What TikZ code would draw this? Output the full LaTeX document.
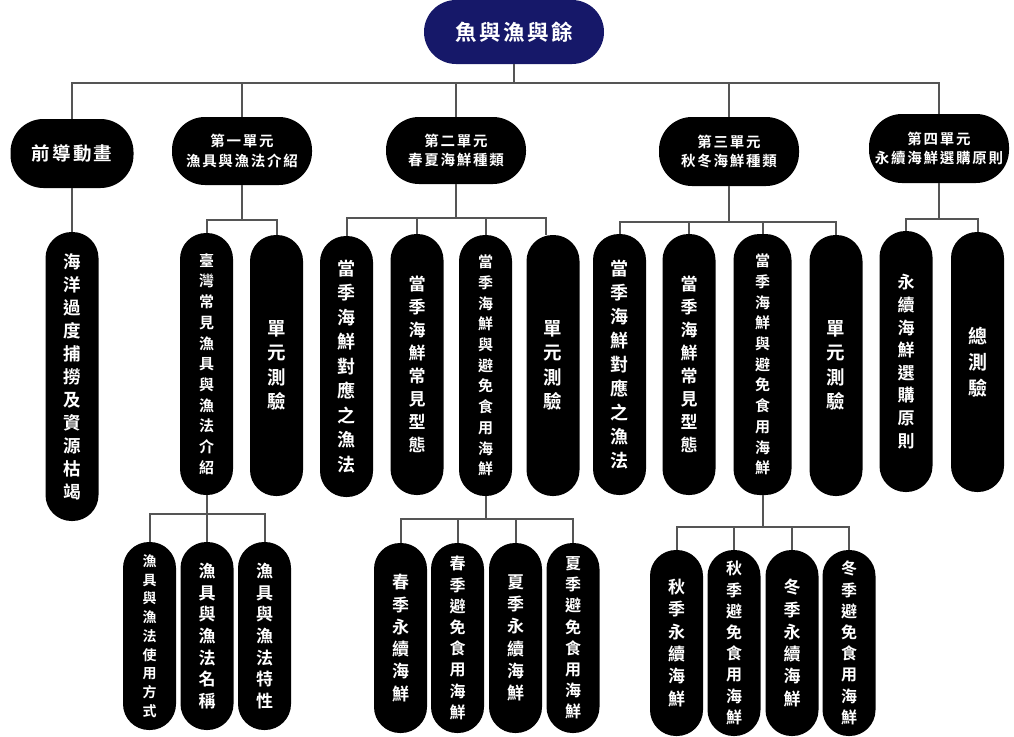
\documentclass[tikz,border=0pt]{standalone}
\usepackage{fontspec}
\newfontfamily\cjk{Noto Sans CJK TC}[BoldFont={Noto Sans CJK TC Bold}]
\newfontfamily\cjkh{Noto Sans CJK TC}[BoldFont={Noto Sans CJK TC Bold},LetterSpace=12]
\definecolor{navy}{RGB}{22,24,105}
\definecolor{linegray}{RGB}{85,85,85}
\newcommand\vf[2]{\cjk\bfseries\fontsize{#1}{#2}\selectfont}
\newcommand\hf[2]{\cjkh\bfseries\fontsize{#1}{#2}\selectfont}
\begin{document}
\begin{tikzpicture}[x=1pt,y=-1pt,
  conn/.style={draw=linegray, line width=2pt},
  vp/.style={fill=black, rounded corners=26pt, minimum width=53pt, inner sep=0pt, text=white, align=center},
  hp/.style={fill=black, rounded corners=33pt, minimum width=140pt, minimum height=68pt, inner sep=0pt, text=white, align=center, font=\hf{14.5}{19.5}},
]
\useasboundingbox (0,0) rectangle (1014,736);
% root
\node[fill=navy, rounded corners=32pt, minimum width=180pt, minimum height=64pt, inner sep=0pt, text=white, font=\hf{21.5}{24}] (root) at (514,32) {魚與漁與餘};
% level 1
\node[hp, minimum width=123pt, minimum height=69pt, font=\hf{18.5}{22}] (a1) at (72,153.5) {前導動畫};
\node[hp] (a2) at (242,151) {第一單元\\漁具與漁法介紹};
\node[hp, minimum height=67pt] (a3) at (456,150.5) {第二單元\\春夏海鮮種類};
\node[hp, minimum height=69pt] (a4) at (729,151.5) {第三單元\\秋冬海鮮種類};
\node[hp, minimum height=69pt] (a5) at (939,148.5) {第四單元\\永續海鮮選購原則};
% level 2
\node[vp, minimum height=289pt, font=\vf{17.5}{23}] (b1) at (72,376.5) {海\\洋\\過\\度\\捕\\撈\\及\\資\\源\\枯\\竭};
\node[vp, minimum height=262pt, font=\vf{15}{20.7}] (c1) at (206.5,364) {臺\\灣\\常\\見\\漁\\具\\與\\漁\\法\\介\\紹};
\node[vp, minimum height=261pt, font=\vf{18.5}{24.5}] (c2) at (276.5,365.5) {單\\元\\測\\驗};
\node[vp, minimum height=261pt, font=\vf{18}{24.5}] (d1) at (346.5,366.5) {當\\季\\海\\鮮\\對\\應\\之\\漁\\法};
\node[vp, minimum height=261pt, font=\vf{17}{23}] (d2) at (417,364.5) {當\\季\\海\\鮮\\常\\見\\型\\態};
\node[vp, minimum height=261pt, font=\vf{15}{20.7}] (d3) at (485.5,365.5) {當\\季\\海\\鮮\\與\\避\\免\\食\\用\\海\\鮮};
\node[vp, minimum height=261pt, font=\vf{18.5}{24.5}] (d4) at (553,365.5) {單\\元\\測\\驗};
\node[vp, minimum height=261pt, font=\vf{18}{24}] (e1) at (619.5,364.5) {當\\季\\海\\鮮\\對\\應\\之\\漁\\法};
\node[vp, minimum height=261pt, font=\vf{17}{23}] (e2) at (689,364.5) {當\\季\\海\\鮮\\常\\見\\型\\態};
\node[vp, minimum width=58pt, minimum height=261pt, font=\vf{15}{20.7}] (e3) at (762.5,364.5) {當\\季\\海\\鮮\\與\\避\\免\\食\\用\\海\\鮮};
\node[vp, minimum height=261pt, font=\vf{18.5}{24.5}] (e4) at (836,365.5) {單\\元\\測\\驗};
\node[vp, minimum height=261pt, font=\vf{17}{22.6}] (f1) at (906,361.5) {永\\續\\海\\鮮\\選\\購\\原\\則};
\node[vp, minimum height=260pt, font=\vf{19}{25.8}] (f2) at (977.5,362) {總\\測\\驗};
% level 3
\node[vp, minimum height=188pt, font=\vf{14}{18.75}] (g1) at (149.5,636) {漁\\具\\與\\漁\\法\\使\\用\\方\\式};
\node[vp, minimum height=188pt, font=\vf{17}{21.7}] (g2) at (207,636) {漁\\具\\與\\漁\\法\\名\\稱};
\node[vp, minimum height=188pt, font=\vf{17}{21.7}] (g3) at (264.5,636) {漁\\具\\與\\漁\\法\\特\\性};
\node[vp, minimum height=190pt, font=\vf{17}{22.3}] (h1) at (400.5,638) {春\\季\\永\\續\\海\\鮮};
\node[vp, minimum height=190pt, font=\vf{16}{21.2}] (h2) at (457.5,638) {春\\季\\避\\免\\食\\用\\海\\鮮};
\node[vp, minimum height=190pt, font=\vf{17}{22.3}] (h3) at (515.5,638) {夏\\季\\永\\續\\海\\鮮};
\node[vp, minimum height=190pt, font=\vf{16}{21.2}] (h4) at (573,638) {夏\\季\\避\\免\\食\\用\\海\\鮮};
\node[vp, minimum height=186pt, font=\vf{17}{22.3}] (i1) at (676.5,643) {秋\\季\\永\\續\\海\\鮮};
\node[vp, minimum height=186pt, font=\vf{16}{21.2}] (i2) at (734,643) {秋\\季\\避\\免\\食\\用\\海\\鮮};
\node[vp, minimum height=186pt, font=\vf{17}{22.3}] (i3) at (792,643) {冬\\季\\永\\續\\海\\鮮};
\node[vp, minimum height=186pt, font=\vf{16}{21.2}] (i4) at (849,643) {冬\\季\\避\\免\\食\\用\\海\\鮮};
% junctions
\coordinate (j0) at (root.south |- 0,83);
\coordinate (k2) at (a2.south |- 0,220);
\coordinate (k3) at (a3.south |- 0,218);
\coordinate (k4) at (a4.south |- 0,222);
\coordinate (k5) at (a5.south |- 0,219);
\coordinate (k6) at (c1.south |- 0,514);
\coordinate (k7) at (d3.south |- 0,519);
\coordinate (k8) at (e3.south |- 0,527);
% connectors
\draw[conn] (root) -- (j0);
\foreach \n in {a1,a2,a3,a4,a5} \draw[conn] (j0) -| (\n);
\draw[conn] (a1) -- (b1);
\draw[conn] (a2) -- (k2);
\foreach \n in {c1,c2} \draw[conn] (k2) -| (\n);
\draw[conn] (a3) -- (k3);
\foreach \n in {d1,d2,d3} \draw[conn] (k3) -| (\n);
\draw[conn] (k3) -| ([xshift=-7pt]d4.north);
\draw[conn] (a4) -- (k4);
\foreach \n in {e1,e2,e3,e4} \draw[conn] (k4) -| (\n);
\draw[conn] (a5) -- (k5);
\foreach \n in {f1,f2} \draw[conn] (k5) -| (\n);
\draw[conn] (c1) -- (k6);
\foreach \n in {g1,g2,g3} \draw[conn] (k6) -| (\n);
\draw[conn] (d3) -- (k7);
\foreach \n in {h1,h2,h3,h4} \draw[conn] (k7) -| (\n);
\draw[conn] (e3) -- (k8);
\foreach \n in {i1,i2,i3,i4} \draw[conn] (k8) -| (\n);
\end{tikzpicture}
\end{document}
